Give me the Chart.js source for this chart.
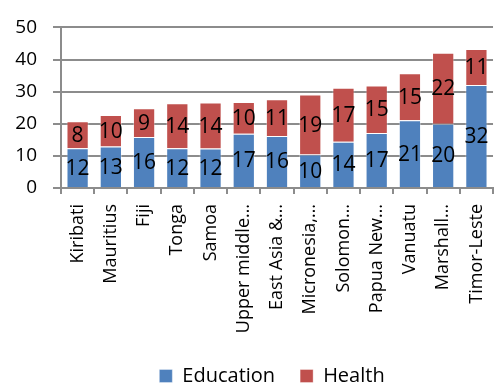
<!doctype html>
<html lang="en">
<head>
    <meta charset="utf-8">
    <style>
        html,
        body {
            margin: 0;
            padding: 0;
            overflow: hidden;
            background: #ffffff;
        }

        #wrap {
            position: relative;
            width: 508px;
            height: 390px;
        }
    </style>
    <script src="https://cdn.jsdelivr.net/npm/chart.js@4.4.1/dist/chart.umd.min.js"></script>
</head>

<body>
    <div id="wrap">
        <canvas id="myChart"></canvas>
    </div>

    <script>
        // data
        const countries = ['Kiribati', 'Mauritius', 'Fiji', 'Tonga', 'Samoa', 'Upper middle\u2026', 'East Asia &\u2026',
            'Micronesia,\u2026', 'Solomon\u2026', 'Papua New\u2026', 'Vanuatu', 'Marshall\u2026', 'Timor-Leste'];
        const education = [12.4, 12.9, 15.9, 12.4, 12.3, 16.9, 16.2, 10.4, 14.4, 17.1, 21.1, 20.0, 32.1];
        const health = [8.4, 9.8, 8.9, 14.0, 14.3, 9.9, 11.4, 18.7, 16.8, 14.8, 14.6, 22.1, 11.2];
        const yTicks = [0, 10, 20, 30, 40, 50];

        const FONT = "'Open Sans', 'DejaVu Sans', sans-serif";
        const GRID = '#8c8c8c';

        // numbers in the middle of each segment
        const segLabels = {
            id: 'segLabels',
            afterDatasetsDraw(chart) {
                const ctx = chart.ctx;
                ctx.save();
                ctx.font = '21px ' + FONT;
                ctx.fillStyle = '#000';
                ctx.textAlign = 'center';
                ctx.textBaseline = 'middle';
                chart.data.datasets.forEach((ds, i) => {
                    chart.getDatasetMeta(i).data.forEach((bar, j) => {
                        ctx.fillText(Math.round(ds.data[j]), bar.x, (bar.y + bar.base) / 2 + 1);
                    });
                });
                ctx.restore();
            }
        };

        // legend sits a bit right of the middle and lower;
        // x labels are allowed to run a little below their box
        const layoutTweak = {
            id: 'layoutTweak',
            afterLayout(chart) {
                chart.legend.left += 18;
                chart.legend.right += 18;
                chart.legend.top += 8;
                chart.legend.bottom += 8;
                chart.scales.x.bottom += 20;
            }
        };

        var ctx = document.getElementById('myChart');
        var myChart = new Chart(ctx, {
            type: 'bar',
            data: {
                labels: countries,
                datasets: [{
                    label: 'Education',
                    data: education,
                    backgroundColor: '#4f81bd',
                    borderColor: 'rgba(255,255,255,0.35)',
                    borderWidth: 1
                }, {
                    label: 'Health',
                    data: health,
                    backgroundColor: '#c0504d',
                    borderColor: 'rgba(255,255,255,0.35)',
                    borderWidth: 1
                }]
            },
            options: {
                responsive: true,
                maintainAspectRatio: false,
                animation: false,
                layout: { padding: { top: 18, left: 0, right: 0, bottom: 2 } },
                datasets: { bar: { categoryPercentage: 1, barPercentage: 0.67 } },
                plugins: {
                    tooltip: { enabled: false },
                    legend: {
                        position: 'bottom',
                        labels: {
                            boxWidth: 13,
                            boxHeight: 13,
                            padding: 25,
                            color: '#000',
                            font: { family: FONT, size: 20 }
                        }
                    }
                },
                scales: {
                    x: {
                        stacked: true,
                        afterFit: (s) => { s.height = 145; },
                        border: { color: GRID, width: 2 },
                        grid: { offset: true, drawOnChartArea: false, drawTicks: true, tickLength: 6, color: GRID, lineWidth: 2 },
                        ticks: {
                            autoSkip: false,
                            minRotation: 90,
                            maxRotation: 90,
                            padding: 10,
                            color: '#000',
                            font: { family: FONT, size: 18 }
                        }
                    },
                    y: {
                        stacked: true,
                        min: 0,
                        max: 50,
                        afterFit: (s) => { s.width = 61; },
                        afterBuildTicks: (s) => { s.ticks = yTicks.map(v => ({ value: v })); },
                        border: { color: GRID, width: 2 },
                        grid: { color: GRID, lineWidth: 2, tickLength: 8 },
                        ticks: {
                            padding: 16,
                            color: '#000',
                            font: { family: FONT, size: 19 }
                        }
                    }
                }
            },
            plugins: [segLabels, layoutTweak]
        });
    </script>
</body>
</html>
